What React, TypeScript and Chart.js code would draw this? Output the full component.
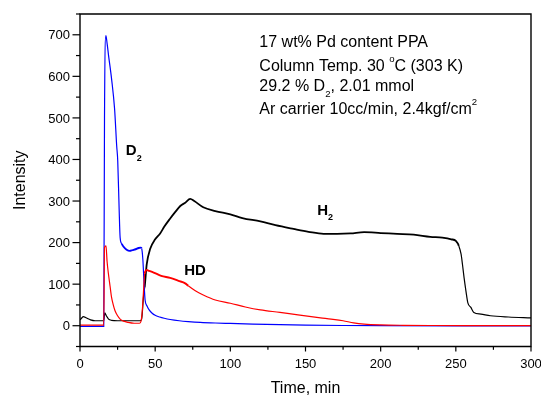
import React, { useEffect, useRef } from "react";
import { Chart, registerables } from "chart.js";

Chart.register(...registerables);

// ---- data ----
const d2Time = [0, 15.8, 16.3, 17.2, 18, 19, 21, 23, 24.4, 25.1, 26, 26.7, 27.8, 29, 31, 33, 35, 37, 39, 40.3, 41, 41.8, 42.5, 43.3, 44.5, 46, 48, 50, 53, 56, 60, 66, 72, 80, 90, 100, 115, 133, 150, 175, 200, 250, 300];
const d2Values = [-1.5, -1.5, 500, 698, 680, 650, 594, 522, 433, 397, 285, 212, 197, 190, 183, 180, 182, 184, 187, 188, 186, 160, 110, 62, 48, 38, 30, 25, 21, 18, 15, 12, 10, 8, 6.5, 5.5, 4, 2.5, 1.5, 0.5, 0, -0.5, -0.5];

const hdTime = [0, 15.8, 16.3, 17.3, 18, 18.9, 20, 21, 22, 23.3, 25, 26.7, 29, 32, 36, 39.5, 40.5, 41.3, 42.2, 43, 44.4, 46, 49, 54, 60, 65.5, 70, 72, 76.7, 82, 90, 100, 110, 120, 133, 145, 160, 167, 175, 182, 189, 200, 215, 235, 260, 300];
const hdValues = [1.5, 1.5, 188, 192, 155, 125, 95, 68, 52, 36, 24, 16, 11, 8, 6, 6, 10, 30, 80, 125, 134, 132, 128, 120, 115, 108, 102, 96, 84, 74, 62, 54, 45, 38, 32, 26, 19, 16, 12, 7, 4, 2, 1, 0.5, 0.3, 0];

const h2Time = [0, 1, 2.2, 4, 7, 10, 15.8, 16.5, 17.5, 19, 21, 25, 30, 35, 40, 41, 42.2, 43, 44.4, 46.7, 50, 53.3, 56, 60, 63, 66.7, 70, 73.3, 76, 82, 90, 100, 108, 120, 130, 142, 152, 162, 171, 180, 189, 200, 211, 222, 233, 241, 247, 250, 252, 253.5, 254.4, 255.5, 256.7, 258, 260, 262, 266.7, 273, 285, 300];
const h2Values = [14, 18, 22, 19, 14, 12, 12, 31, 24, 16, 13, 12, 12, 12, 12, 16, 68, 92, 148, 185, 208, 222, 238, 258, 272, 288, 296, 305, 300, 285, 276, 268, 259, 251, 242, 233, 226, 221, 221, 222, 225, 223, 221, 219, 214, 212, 208, 204, 192, 172, 148, 115, 84, 55, 44, 32, 28, 24, 21, 19];

const xTicks = [0, 25, 50, 75, 100, 125, 150, 175, 200, 225, 250, 275, 300];
const xTickLabels = ["0", "", "50", "", "100", "", "150", "", "200", "", "250", "", "300"];
const yTicks = [-50, 0, 50, 100, 150, 200, 250, 300, 350, 400, 450, 500, 550, 600, 650, 700, 750];
const yTickLabels = ["", "0", "", "100", "", "200", "", "300", "", "400", "", "500", "", "600", "", "700", ""];

const xTitle = "Time, min";
const yTitle = "Intensity";

type Part = { t: string; s?: "sub" | "sup" };
const infoLines: Part[][] = [
  [{ t: "17 wt% Pd content PPA" }],
  [{ t: "Column Temp. 30 " }, { t: "o", s: "sup" }, { t: "C (303 K)" }],
  [{ t: "29.2 % D" }, { t: "2", s: "sub" }, { t: ", 2.01 mmol" }],
  [{ t: "Ar carrier 10cc/min, 2.4kgf/cm" }, { t: "2", s: "sup" }],
];
const infoAnchorX = 119.3;
const infoAnchorY = [671, 613, 565, 509];

const seriesLabels: { parts: Part[]; x: number; y: number }[] = [
  { parts: [{ t: "D" }, { t: "2", s: "sub" }], x: 30.5, y: 411 },
  { parts: [{ t: "H" }, { t: "2", s: "sub" }], x: 157.8, y: 267 },
  { parts: [{ t: "HD" }], x: 69.3, y: 122.7 },
];

const FONT = '"Liberation Sans", Arial, Helvetica, sans-serif';

function drawRich(ctx: CanvasRenderingContext2D, x: number, y: number, parts: Part[], size: number, bold: boolean) {
  let cx = x;
  for (const p of parts) {
    const fs = p.s ? size * 0.6 : size;
    ctx.font = `${bold ? "bold " : ""}${fs}px ${FONT}`;
    const dy = p.s === "sub" ? size * 0.38 : p.s === "sup" ? -size * 0.55 : 0;
    ctx.fillText(p.t, cx, y + dy);
    cx += ctx.measureText(p.t).width;
  }
}

const toPoints = (xs: number[], ys: number[]) => xs.map((x, i) => ({ x, y: ys[i] }));

const noisy = (lo: number, hi: number, thin: number, thick: number) => (c: any) => {
  const x = c.p0.parsed.x;
  return x >= lo && x < hi ? thick : thin;
};

const framePlugin = {
  id: "frame",
  afterDraw(chart: any) {
    const ctx: CanvasRenderingContext2D = chart.ctx;
    const { left, right, top, bottom } = chart.chartArea;
    const xs = chart.scales.x;
    const ys = chart.scales.y;
    ctx.save();
    ctx.strokeStyle = "#000";
    ctx.fillStyle = "#000";
    ctx.lineWidth = 1.4;
    ctx.beginPath();
    ctx.rect(left, top, right - left, bottom - top);
    ctx.stroke();

    // y ticks
    ctx.lineWidth = 1.2;
    ctx.font = `13px ${FONT}`;
    ctx.textAlign = "right";
    ctx.textBaseline = "alphabetic";
    yTicks.forEach((v, i) => {
      const py = ys.getPixelForValue(v);
      const major = yTickLabels[i] !== "";
      ctx.beginPath();
      ctx.moveTo(left, py);
      ctx.lineTo(left - (major ? 7.5 : 4), py);
      ctx.stroke();
      if (major) ctx.fillText(yTickLabels[i], left - 10, py + 4.6);
    });

    // x ticks
    ctx.textAlign = "center";
    xTicks.forEach((v, i) => {
      const px = xs.getPixelForValue(v);
      const major = xTickLabels[i] !== "";
      ctx.beginPath();
      ctx.moveTo(px, bottom);
      ctx.lineTo(px, bottom + (major ? 5 : 3.3));
      ctx.stroke();
      if (major) ctx.fillText(xTickLabels[i], px, bottom + 21.5);
    });

    // axis titles
    ctx.font = `16px ${FONT}`;
    ctx.fillText(xTitle, (left + right) / 2, 393);
    ctx.save();
    ctx.translate(25, (top + bottom) / 2);
    ctx.rotate(-Math.PI / 2);
    ctx.fillText(yTitle, 0, 0);
    ctx.restore();

    // info text
    ctx.textAlign = "left";
    infoLines.forEach((parts, i) => {
      drawRich(ctx, xs.getPixelForValue(infoAnchorX), ys.getPixelForValue(infoAnchorY[i]), parts, 16, false);
    });

    // series labels
    seriesLabels.forEach((l) => {
      drawRich(ctx, xs.getPixelForValue(l.x), ys.getPixelForValue(l.y), l.parts, 15, true);
    });
    ctx.restore();
  },
};

export default function App() {
  const ref = useRef<HTMLCanvasElement | null>(null);
  useEffect(() => {
    if (!ref.current) return;
    const chart = new Chart(ref.current, {
      type: "line",
      data: {
        datasets: [
          {
            label: "HD",
            data: toPoints(hdTime, hdValues),
            borderColor: "#ff0000",
            borderWidth: 1.2,
            segment: { borderWidth: noisy(43, 72, 1.2, 1.9) },
          },
          {
            label: "D2",
            data: toPoints(d2Time, d2Values),
            borderColor: "#0000ff",
            borderWidth: 1.2,
            segment: { borderWidth: noisy(27.5, 41, 1.2, 1.9) },
          },
          {
            label: "H2",
            data: toPoints(h2Time, h2Values),
            borderColor: "#000000",
            borderWidth: 1.2,
            segment: { borderWidth: noisy(43, 251, 1.2, 1.8) },
          },
        ],
      },
      options: {
        animation: false,
        responsive: true,
        maintainAspectRatio: false,
        layout: { padding: { left: 80, right: 10, top: 14, bottom: 49.5 } },
        elements: {
          point: { radius: 0 },
          line: { cubicInterpolationMode: "monotone", fill: false },
        },
        scales: {
          x: { type: "linear", min: 0, max: 300, display: false },
          y: { type: "linear", min: -50, max: 750, display: false },
        },
        plugins: { legend: { display: false }, tooltip: { enabled: false } },
      },
      plugins: [framePlugin],
    });
    return () => chart.destroy();
  }, []);
  return (
    <div style={{ position: "absolute", left: 0, top: 0, width: 541, height: 396, background: "#fff" }}>
      <canvas ref={ref} />
    </div>
  );
}
